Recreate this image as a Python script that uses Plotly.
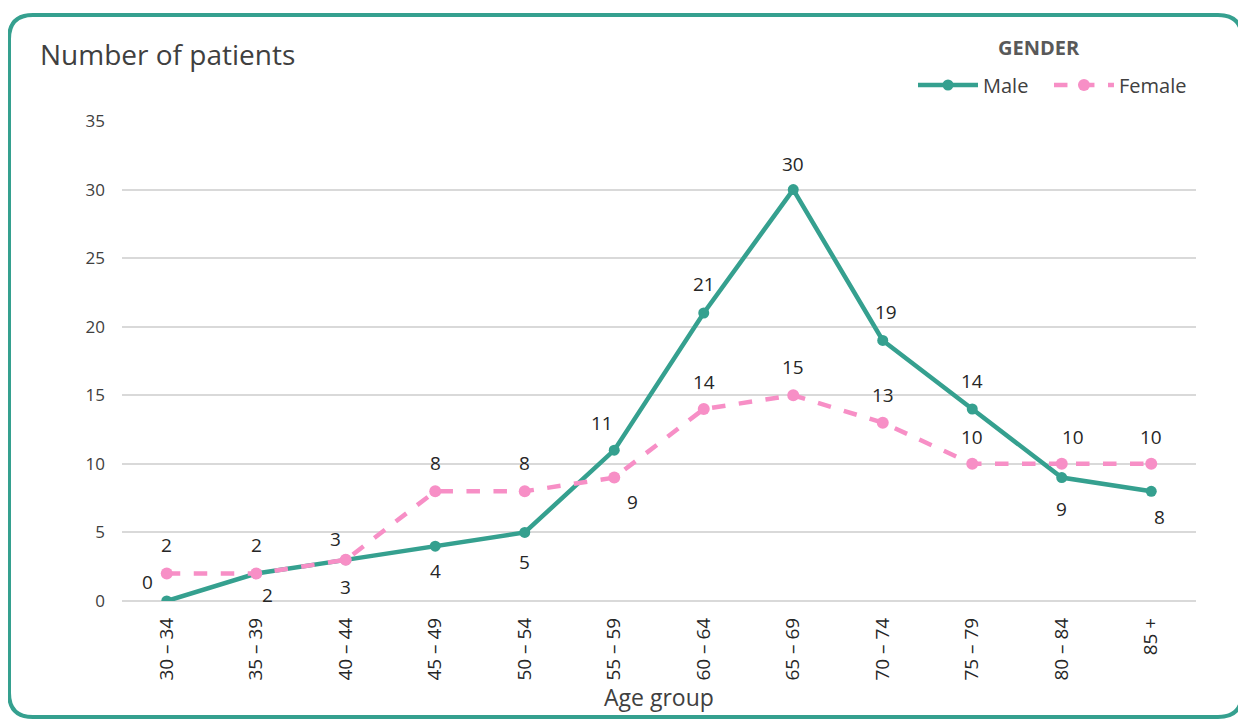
import plotly.graph_objects as go

age_groups = ["30 – 34", "35 – 39", "40 – 44", "45 – 49", "50 – 54", "55 – 59",
              "60 – 64", "65 – 69", "70 – 74", "75 – 79", "80 – 84", "85 +"]
male = [0, 2, 3, 4, 5, 11, 21, 30, 19, 14, 9, 8]
female = [2, 2, 3, 8, 8, 9, 14, 15, 13, 10, 10, 10]

# label offsets (pixels) for data labels (style only)
male_off = [(-19, 19), (11, -21), (0, -27), (0, -25), (0, -30), (-12, 27),
            (0, 29), (0, 26), (3, 28), (0, 28), (0, -31), (8, -26)]
female_off = [(0, 29), (0, 29), (-10, 21), (0, 28), (0, 28), (18, -24),
              (0, 27), (0, 28), (0, 28), (0, 27), (11, 27), (0, 27)]

TEAL = "#35a08f"
PINK = "#f78fc6"
FONT = "Open Sans"

OFF = 8  # page body margin
W, H = 1246, 721
L, R, T, B = 122 - OFF, 50 + OFF, 121 - OFF, 120 + OFF
PW, PH = W - L - R, H - T - B


def px(x):
    return (x - OFF - L) / PW


def py(y):
    return (H - B - (y - OFF)) / PH


fig = go.Figure()
fig.add_trace(go.Scatter(
    x=list(range(len(age_groups))), y=male, name="Male\u00a0\u00a0\u00a0", mode="lines+markers",
    line=dict(color=TEAL, width=4.5), marker=dict(size=11, color=TEAL),
))
fig.add_trace(go.Scatter(
    x=list(range(len(age_groups))), y=female, name="Female", mode="lines+markers",
    line=dict(color=PINK, width=4.5, dash="dash"), marker=dict(size=12, color=PINK),
))

annotations = []
for vals, offs in ((male, male_off), (female, female_off)):
    for i, (v, (dx, dy)) in enumerate(zip(vals, offs)):
        annotations.append(dict(
            x=i, y=v, xref="x", yref="y", text=str(v), showarrow=False,
            xshift=dx, yshift=dy, font=dict(family=FONT, size=19, color="#262626"),
        ))

annotations.append(dict(
    x=px(38), y=py(54), xref="paper", yref="paper", text="Number of patients",
    showarrow=False, xanchor="left", yanchor="middle",
    font=dict(family=FONT, size=28, color="#404040"),
))
annotations.append(dict(
    x=px(1039), y=py(47), xref="paper", yref="paper", text="<b>GENDER</b>",
    showarrow=False, xanchor="center", yanchor="middle",
    font=dict(family=FONT, size=20, color="#595959"),
))
annotations.append(dict(
    x=px(659), y=py(697), xref="paper", yref="paper", text="Age group",
    showarrow=False, xanchor="center", yanchor="middle",
    font=dict(family=FONT, size=23, color="#404040"),
))

# rounded border path (screen pixel coords)
r = 24
x0, x1, y0, y1 = 9, 1242, 15, 717


def P(x, y):
    return f"{px(x)},{py(y)}"


path = (f"M {P(x0 + r, y0)} L {P(x1 - r, y0)} Q {P(x1, y0)} {P(x1, y0 + r)} "
        f"L {P(x1, y1 - r)} Q {P(x1, y1)} {P(x1 - r, y1)} "
        f"L {P(x0 + r, y1)} Q {P(x0, y1)} {P(x0, y1 - r)} "
        f"L {P(x0, y0 + r)} Q {P(x0, y0)} {P(x0 + r, y0)} Z")

fig.update_layout(
    width=W, height=H,
    margin=dict(l=L, r=R, t=T, b=B),
    paper_bgcolor="white", plot_bgcolor="white",
    font=dict(family=FONT, color="#404040"),
    showlegend=True,
    legend=dict(orientation="h", x=px(1192), xanchor="right", y=py(85), yanchor="middle",
                font=dict(family=FONT, size=20, color="#404040"),
                bgcolor="rgba(0,0,0,0)", itemwidth=60),
    annotations=annotations,
    shapes=[dict(type="path", path=path, xref="paper", yref="paper",
                 line=dict(color=TEAL, width=4), layer="below")],
    xaxis=dict(
        range=[-0.5, len(age_groups) - 0.5],
        tickmode="array", tickvals=list(range(len(age_groups))), ticktext=age_groups,
        tickangle=-90, showgrid=False, zeroline=False, showline=False, ticks="",
        ticklabelstandoff=12,
        tickfont=dict(family=FONT, size=19, color="#262626"),
    ),
    yaxis=dict(
        range=[0, 35], tickvals=[0, 5, 10, 15, 20, 25, 30, 35],
        showgrid=True, gridcolor="#d9d9d9", gridwidth=1.5,
        zeroline=True, zerolinecolor="#d9d9d9", zerolinewidth=1.5,
        showline=False, ticks="", ticklabelstandoff=16,
        tickfont=dict(family=FONT, size=17, color="#404040"),
    ),
)

fig.write_html("out.html")
